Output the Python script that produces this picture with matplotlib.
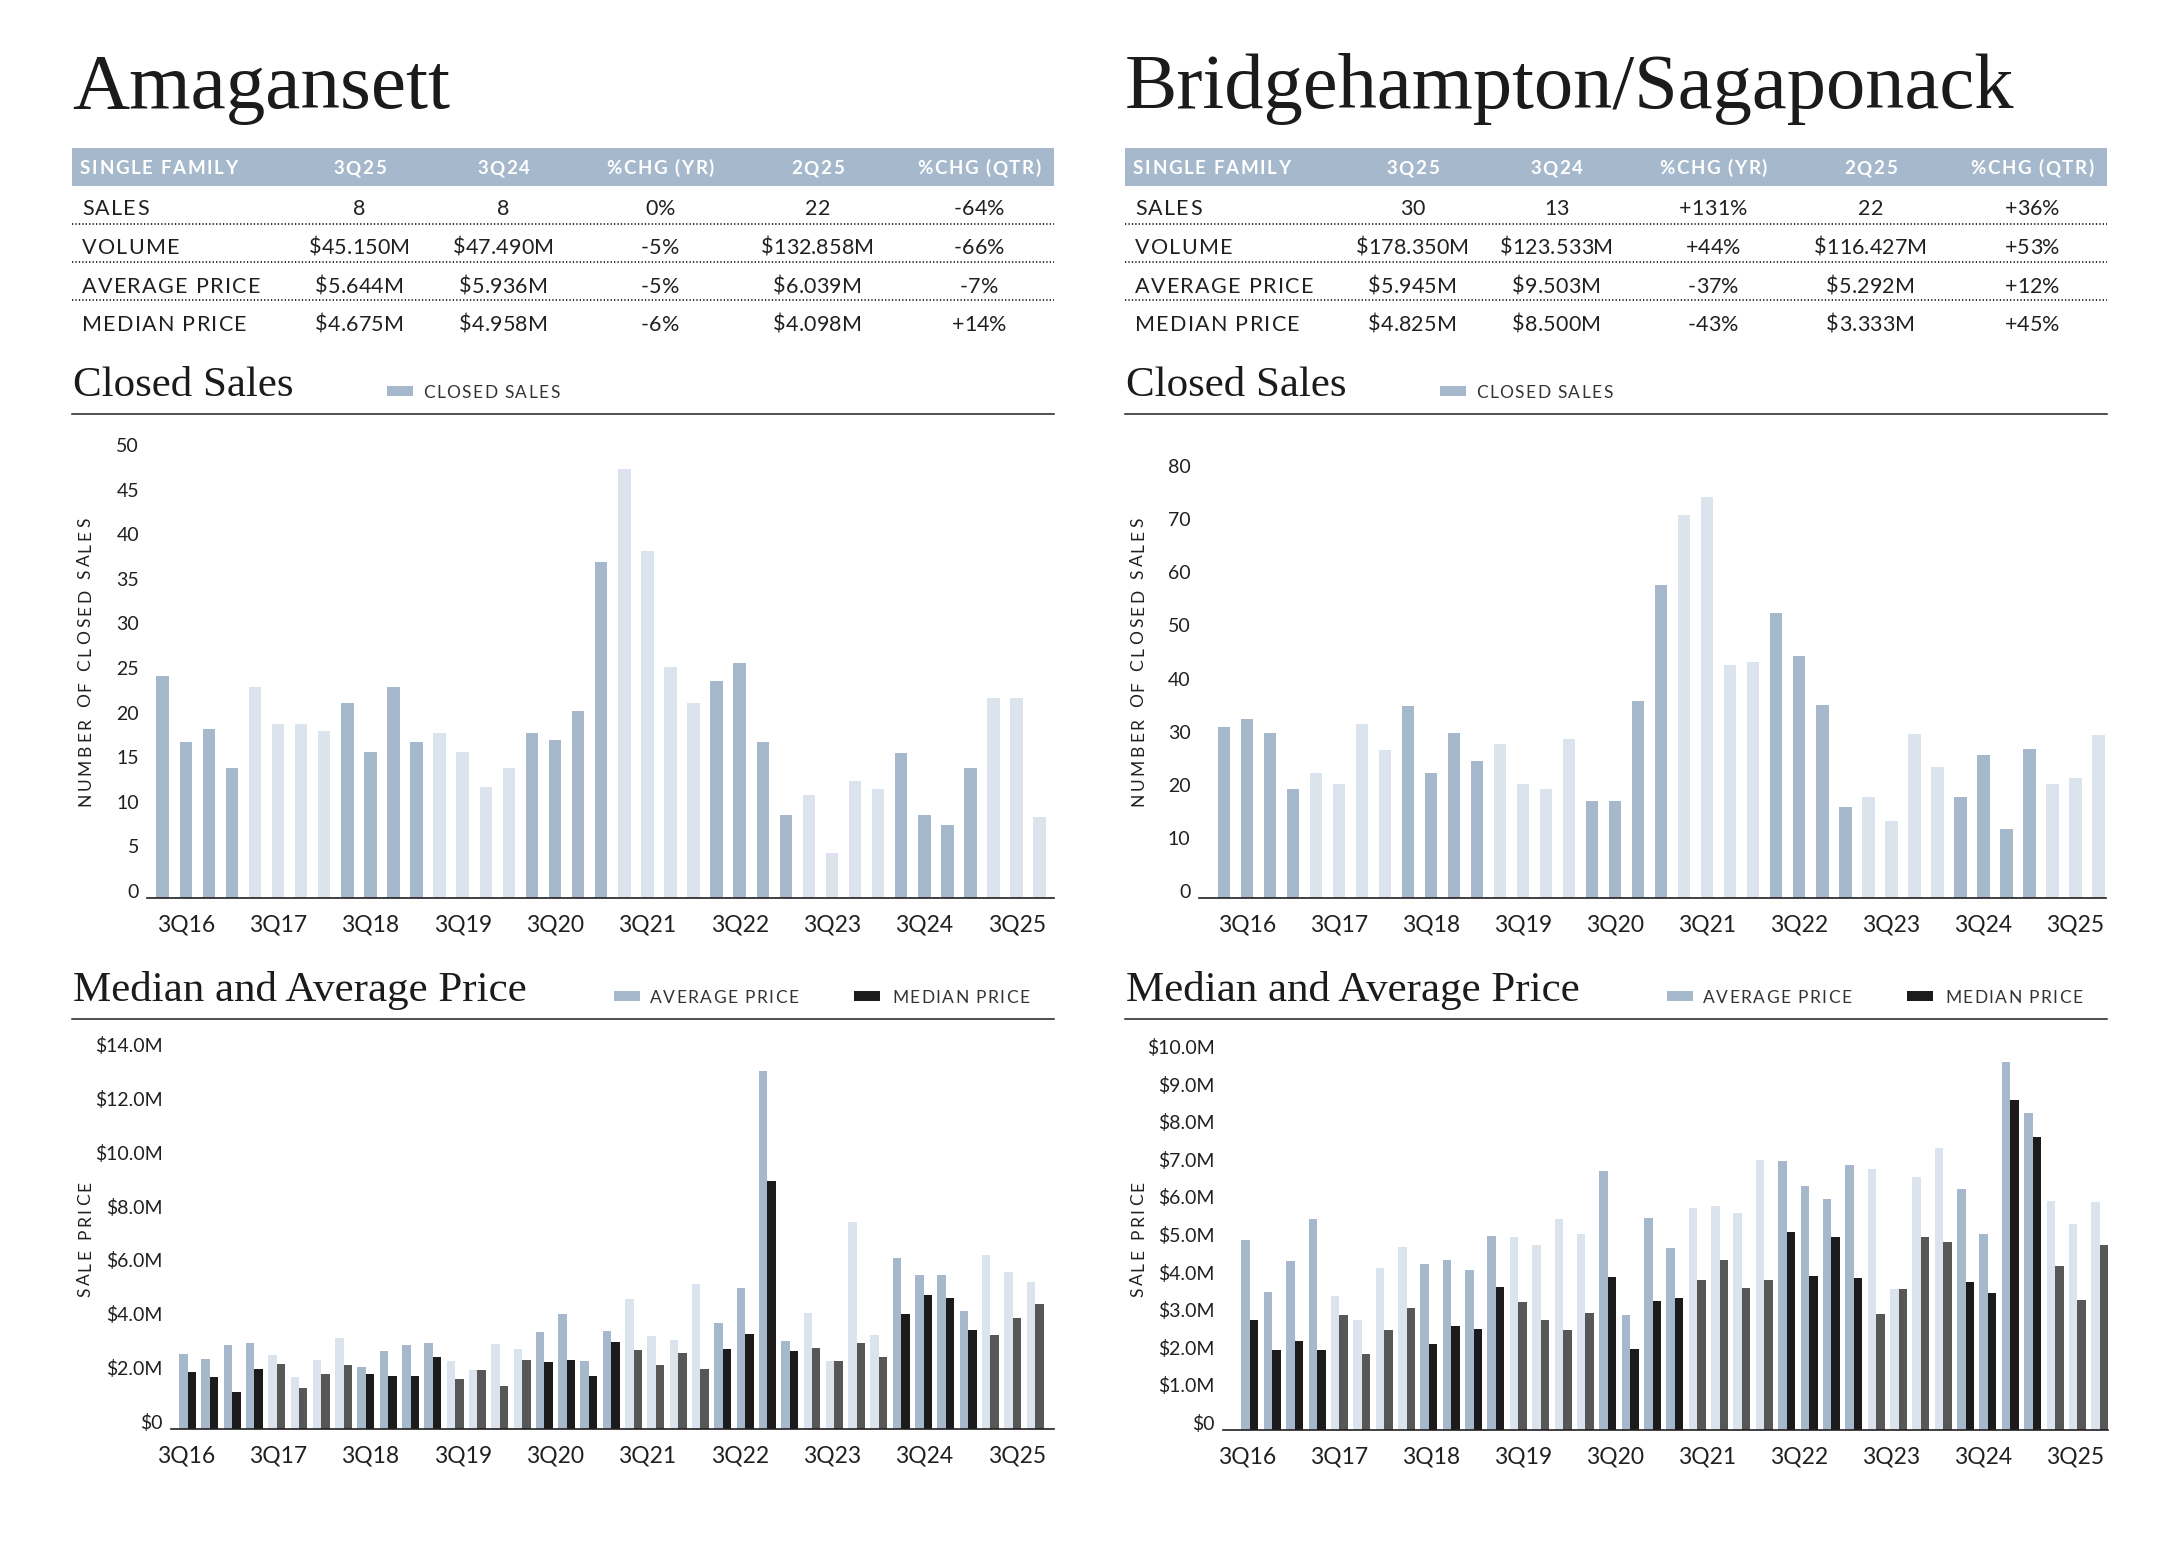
"""
Amagansett / Bridgehampton-Sagaponack single family market page:
summary tables plus closed-sales and median/average price bar charts.
Writes out.png (2176x1548).
"""

import matplotlib
matplotlib.use("Agg")
import matplotlib.pyplot as plt
import numpy as np
from matplotlib.font_manager import FontProperties
from matplotlib.lines import Line2D
from matplotlib.patches import Rectangle
from matplotlib.textpath import TextToPath

W, H, DPI = 2176, 1548, 100
SANS = "Lato"
SERIF = "Liberation Serif"
INK = "#231f20"
BLUE = "#a6b9cc"
PALE = "#dbe4ec"
BLACK = "#1b1b1b"
GREY = "#575757"

# 1Q16 .. 3Q25
QUARTERS = [f"{q}Q{y}" for y in range(16, 26) for q in range(1, 5)][:39]
TICK_LABELS = ["3Q16", "3Q17", "3Q18", "3Q19", "3Q20", "3Q21", "3Q22", "3Q23", "3Q24", "3Q25"]

AMA_SALES = [24.9, 17.5, 19.0, 14.6, 23.6, 19.5, 19.5, 18.7, 21.9, 16.4, 23.6, 17.5, 18.5,
             16.4, 12.5, 14.6, 18.5, 17.7, 21.0, 37.7, 48.1, 38.9, 25.9, 21.9, 24.3, 26.3,
             17.5, 9.3, 11.5, 5.1, 13.1, 12.2, 16.3, 9.3, 8.2, 14.6, 22.4, 22.4, 9.1]
BRI_SALES = [32.1, 33.7, 31.1, 20.6, 23.6, 21.5, 32.8, 27.9, 36.2, 23.6, 31.1, 25.8, 29.0,
             21.5, 20.6, 29.9, 18.3, 18.3, 37.1, 58.9, 72.1, 75.5, 43.9, 44.4, 53.6, 45.6,
             36.3, 17.1, 19.0, 14.5, 30.9, 24.6, 19.0, 26.9, 13.0, 28.0, 21.5, 22.5, 30.7]

# prices in $M
AMA_AVG = [2.78, 2.60, 3.12, 3.19, 2.74, 1.94, 2.56, 3.38, 2.31, 2.89, 3.12, 3.19, 2.52,
           2.20, 3.16, 2.97, 3.61, 4.27, 2.52, 3.65, 4.83, 3.45, 3.30, 5.38, 3.94, 5.25,
           13.29, 3.27, 4.31, 2.52, 7.70, 3.50, 6.35, 5.72, 5.72, 4.37, 6.46, 5.83, 5.46]
AMA_MED = [2.13, 1.94, 1.39, 2.24, 2.43, 1.53, 2.05, 2.39, 2.05, 1.98, 1.98, 2.69, 1.87,
           2.20, 1.58, 2.57, 2.47, 2.57, 1.98, 3.24, 2.95, 2.39, 2.84, 2.24, 2.98, 3.51,
           9.21, 2.90, 3.01, 2.52, 3.19, 2.69, 4.27, 4.99, 4.88, 3.69, 3.50, 4.13, 4.65]
BRI_AVG = [5.05, 3.67, 4.50, 5.61, 3.56, 2.93, 4.31, 4.86, 4.41, 4.52, 4.26, 5.16, 5.13,
           4.92, 5.61, 5.21, 6.89, 3.06, 5.64, 4.84, 5.90, 5.96, 5.77, 7.18, 7.15, 6.49,
           6.14, 7.05, 6.94, 3.75, 6.73, 7.50, 6.41, 5.21, 9.79, 8.43, 6.09, 5.48, 6.06]
BRI_MED = [2.93, 2.13, 2.37, 2.13, 3.06, 2.02, 2.66, 3.24, 2.29, 2.77, 2.69, 3.80, 3.40,
           2.93, 2.66, 3.10, 4.07, 2.15, 3.43, 3.51, 3.99, 4.52, 3.78, 3.99, 5.27, 4.10,
           5.13, 4.04, 3.09, 3.75, 5.13, 5.00, 3.94, 3.64, 8.78, 7.79, 4.36, 3.46, 4.92]

TABLE_HEADER = ["SINGLE FAMILY", "3Q25", "3Q24", "%CHG (YR)", "2Q25", "%CHG (QTR)"]
ROW_LABELS = ["SALES", "VOLUME", "AVERAGE PRICE", "MEDIAN PRICE"]
AMA_TABLE = [["8", "8", "0%", "22", "-64%"],
             ["$45.150M", "$47.490M", "-5%", "$132.858M", "-66%"],
             ["$5.644M", "$5.936M", "-5%", "$6.039M", "-7%"],
             ["$4.675M", "$4.958M", "-6%", "$4.098M", "+14%"]]
BRI_TABLE = [["30", "13", "+131%", "22", "+36%"],
             ["$178.350M", "$123.533M", "+44%", "$116.427M", "+53%"],
             ["$5.945M", "$9.503M", "-37%", "$5.292M", "+12%"],
             ["$4.825M", "$8.500M", "-43%", "$3.333M", "+45%"]]

P_HEAD = FontProperties(family=SANS, weight="bold", size=13.5)
P_ROW = FontProperties(family=SANS, size=15.5)
P_LEG = FontProperties(family=SANS, size=12.5)
P_YLAB = FontProperties(family=SANS, size=12.5)

_ttp = TextToPath()


def ink_width(s, prop):
    if not s.strip():
        return 0.0
    w, _, _ = _ttp.get_text_width_height_descent(s, prop, ismath=False)
    return w * DPI / 72.0


def track_for(s, prop, target):
    return (target - ink_width(s, prop)) / (len(s) - 1)


def tracked(fig, x, y, s, prop, color=INK, track=0.0, ha="left", rotate=False):
    """Letter-spaced text. x, y in pixels from top-left; y is the middle of the caps."""
    total = ink_width(s, prop) + track * (len(s) - 1)
    start = {"left": 0.0, "center": -total / 2, "right": -total}[ha]
    cap = 0.7165 * prop.get_size_in_points() * DPI / 72.0
    for i, ch in enumerate(s):
        if ch == " ":
            continue
        off = start + ink_width(s[:i + 1], prop) - ink_width(ch, prop) + i * track
        if rotate:
            fig.text((x + cap / 2) / W, 1 - (y - off) / H, ch, fontproperties=prop, color=color,
                     rotation=90, rotation_mode="anchor", ha="left", va="baseline")
        else:
            fig.text((x + off) / W, 1 - (y + cap / 2) / H, ch, fontproperties=prop, color=color,
                     ha="left", va="baseline")


def rect_px(fig, x0, y0, x1, y1, color):
    fig.add_artist(Rectangle((x0 / W, 1 - y1 / H), (x1 - x0) / W, (y1 - y0) / H,
                             transform=fig.transFigure, color=color, lw=0))


def hline_px(fig, x0, x1, y, **kw):
    fig.add_artist(Line2D([x0 / W, x1 / W], [1 - y / H, 1 - y / H], transform=fig.transFigure, **kw))


def axes_px(fig, left, top, right, bottom):
    return fig.add_axes([left / W, 1 - bottom / H, (right - left) / W, (bottom - top) / H])


def style_axes(ax):
    for side in ("top", "left", "right"):
        ax.spines[side].set_visible(False)
    ax.spines["bottom"].set_color(INK)
    ax.spines["bottom"].set_linewidth(1.2)
    ax.tick_params(axis="x", length=0, pad=12, labelsize=16.5, labelcolor=INK, labelfontfamily=SANS)
    ax.tick_params(axis="y", length=0, pad=5.8, labelsize=14, labelcolor=INK, labelfontfamily=SANS)
    ax.set_facecolor("none")


def draw_sales(ax, values, ymax, ystep, xlim):
    x = np.arange(len(values))
    colors = [BLUE if (i // 4) % 2 == 0 else PALE for i in x]
    ax.bar(x, values, width=0.54, color=colors, lw=0)
    ax.set_xlim(*xlim)
    ax.set_ylim(0, ymax)
    ax.set_yticks(np.arange(0, ymax + 1, ystep))
    ax.set_xticks(x[1::4], TICK_LABELS)
    style_axes(ax)
    for lbl in ax.get_yticklabels():
        lbl.set_verticalalignment("baseline")


def draw_price(ax, avg, med, ymax, ystep, xlim, sales_ax):
    x = np.arange(len(avg))
    year = (x // 4) % 2
    ax.bar(x - 0.19, avg, width=0.38, color=np.where(year == 0, BLUE, PALE), lw=0)
    ax.bar(x + 0.19, med, width=0.38, color=np.where(year == 0, BLACK, GREY), lw=0)
    ax.set_xlim(*xlim)
    ax.set_ylim(0, ymax)
    ticks = np.arange(0, ymax + 0.01, ystep)
    ax.set_yticks(ticks, ["$0"] + [f"${v:.1f}M" for v in ticks[1:]])
    # quarter labels sit at the same page positions as in the closed sales chart
    sx = np.arange(len(avg))[1::4]
    disp = sales_ax.transData.transform(np.column_stack([sx, np.zeros_like(sx)]))
    px = ax.transData.inverted().transform(disp)[:, 0]
    ax.set_xticks(px, TICK_LABELS)
    style_axes(ax)
    for lbl in ax.get_yticklabels():
        lbl.set_verticalalignment("baseline")


def draw_panel(fig, dx, title, title_size, table, sales, sales_lim, avg, med, price_lim, boxes):
    # headline
    fig.text((72 + dx) / W, 1 - 108 / H, title, family=SERIF, size=title_size, color=BLACK, va="baseline")

    # summary table
    rect_px(fig, 72 + dx, 148, 1054 + dx, 186, BLUE)
    col_x = [359.5, 503.5, 660, 817.5, 979]
    t_head = track_for("SINGLE FAMILY", P_HEAD, 157)
    tracked(fig, 80 + dx, 167.5, TABLE_HEADER[0], P_HEAD, "white", t_head)
    for cx, head in zip(col_x, TABLE_HEADER[1:]):
        tracked(fig, cx + dx, 167.5, head, P_HEAD, "white", t_head, ha="center")
    t_row = track_for("AVERAGE PRICE", P_ROW, 178)
    t_val = track_for("$45.150M", P_ROW, 101)
    row_y = [207, 246, 285, 323]
    for ry, label, vals in zip(row_y, ROW_LABELS, table):
        tracked(fig, 82 + dx, ry, label, P_ROW, INK, t_row)
        for cx, v in zip(col_x, vals):
            tracked(fig, cx + dx, ry, v, P_ROW, INK, t_val, ha="center")
    for ly in (224, 262, 300):
        hline_px(fig, 72 + dx, 1054 + dx, ly, color=INK, lw=1.3, linestyle=(0, (0.7, 1.2)))

    # section headers
    t_leg = track_for("AVERAGE PRICE", P_LEG, 148)
    fig.text((73 + dx) / W, 1 - 396 / H, "Closed Sales", family=SERIF, size=31, color=BLACK, va="baseline")
    rect_px(fig, 387 + dx, 386, 413 + dx, 396, BLUE)
    tracked(fig, 423 + dx, 392, "CLOSED SALES", P_LEG, "#333333", t_leg)
    hline_px(fig, 72 + dx, 1054 + dx, 414, color=INK, lw=1.1)

    fig.text((73 + dx) / W, 1 - 1001 / H, "Median and Average Price", family=SERIF, size=31,
             color=BLACK, va="baseline")
    rect_px(fig, 614 + dx, 991, 640 + dx, 1001, BLUE)
    tracked(fig, 650 + dx, 997, "AVERAGE PRICE", P_LEG, "#333333", t_leg)
    rect_px(fig, 854 + dx, 991, 880 + dx, 1001, BLACK)
    tracked(fig, 892 + dx, 997, "MEDIAN PRICE", P_LEG, "#333333", t_leg)
    hline_px(fig, 72 + dx, 1054 + dx, 1019, color=INK, lw=1.1)

    # axis titles
    tracked(fig, 84 + dx, 662, "NUMBER OF CLOSED SALES", P_YLAB, INK,
            track_for("NUMBER OF CLOSED SALES", P_YLAB, 289), ha="center", rotate=True)
    tracked(fig, 84 + dx, 1239, "SALE PRICE", P_YLAB, INK,
            track_for("SALE PRICE", P_YLAB, 116), ha="center", rotate=True)

    s_box, p_box = boxes
    ax_s = axes_px(fig, *s_box)
    draw_sales(ax_s, sales, *sales_lim)
    ax_p = axes_px(fig, *p_box)
    draw_price(ax_p, avg, med, *price_lim, ax_s)


def main() -> None:
    fig = plt.figure(figsize=(W / DPI, H / DPI), dpi=DPI, facecolor="white")

    draw_panel(fig, 0, "Amagansett", 57, AMA_TABLE, AMA_SALES, (50, 5, (-0.68, 38.62)),
               AMA_AVG, AMA_MED, (14, 2, (-0.74, 38.85)),
               ((147, 452, 1054, 898), (171, 1052, 1054, 1429)))
    draw_panel(fig, 1053, "Bridgehampton/Sagaponack", 56.5, BRI_TABLE, BRI_SALES, (80, 10, (-1.11, 38.33)),
               BRI_AVG, BRI_MED, (10, 1, (-1.22, 38.35)),
               ((1198.5, 473, 2106, 898), (1222.7, 1054, 2107.6, 1430)))

    fig.savefig("out.png", dpi=DPI, facecolor="white")
    plt.close(fig)


if __name__ == "__main__":
    main()
